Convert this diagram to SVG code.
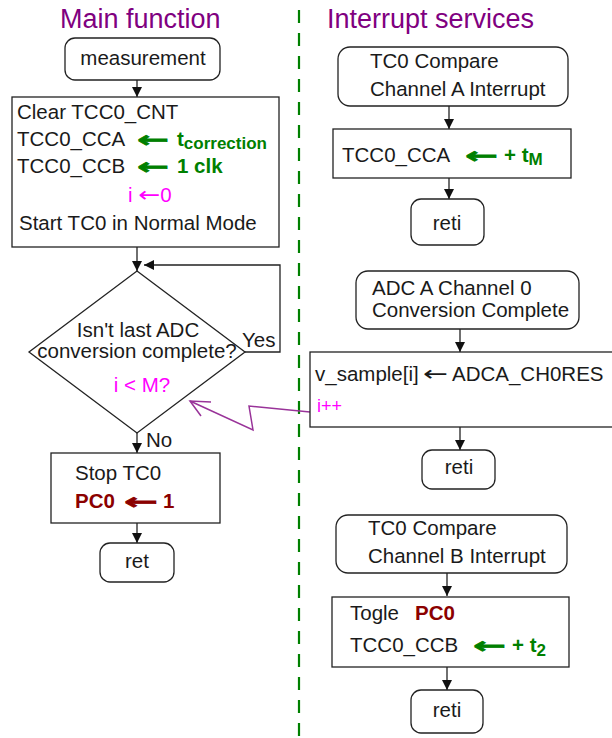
<svg xmlns="http://www.w3.org/2000/svg" width="612" height="738" viewBox="0 0 612 738">
<defs>
<style>
text{font-family:"Liberation Sans","DejaVu Sans",Arial,sans-serif;font-size:20.5px;fill:#1a1a1a}
.title{font-size:27px;fill:#800080}
.box{fill:#fff;stroke:#222;stroke-width:1.3}
.c{text-anchor:middle}
.g{fill:#008000;font-weight:bold}
.r{fill:#8b0000;font-weight:bold}
.m{fill:#ff00ff}
.sub{font-size:17px}
.arr{font-family:"DejaVu Sans",sans-serif;font-size:22px;stroke-width:0.7}
.arrt{font-family:"DejaVu Sans",sans-serif;font-size:21px}
.g.arr{stroke:#008000}
.r.arr{stroke:#8b0000}
.conn{fill:none;stroke:#222;stroke-width:1.3}
</style>
<marker id="ah" viewBox="0 0 10 10" refX="10" refY="5" markerWidth="10" markerHeight="10" markerUnits="userSpaceOnUse" orient="auto">
<path d="M0,0 L10,5 L0,10 z" fill="#111"/>
</marker>
</defs>
<rect width="612" height="738" fill="#fff"/>

<g id="titles">
<text class="title" x="60" y="28">Main function</text>
<text class="title" x="327" y="28">Interrupt services</text>
</g>

<line id="separator" x1="299" y1="10" x2="299" y2="738" stroke="#008000" stroke-width="2.2" stroke-dasharray="13 10"/>

<g id="connectors">
<line class="conn" x1="137" y1="80" x2="137" y2="97" marker-end="url(#ah)"/>
<line class="conn" x1="137" y1="247" x2="137" y2="271" marker-end="url(#ah)"/>
<polyline class="conn" points="245,352 280,352 280,265 144,265" marker-end="url(#ah)"/>
<line class="conn" x1="137" y1="433" x2="137" y2="453" marker-end="url(#ah)"/>
<line class="conn" x1="137" y1="523" x2="137" y2="543" marker-end="url(#ah)"/>
<line class="conn" x1="449" y1="106" x2="449" y2="129" marker-end="url(#ah)"/>
<line class="conn" x1="449" y1="178" x2="449" y2="199" marker-end="url(#ah)"/>
<line class="conn" x1="460" y1="329" x2="460" y2="352" marker-end="url(#ah)"/>
<line class="conn" x1="460" y1="427" x2="460" y2="450" marker-end="url(#ah)"/>
<line class="conn" x1="447" y1="573" x2="447" y2="596" marker-end="url(#ah)"/>
<line class="conn" x1="447" y1="667" x2="447" y2="690" marker-end="url(#ah)"/>
<g id="signal" fill="none" stroke="#993399" stroke-width="1.5">
<polyline points="310,412 249,406 253,430 190,401"/>
<polyline points="211,402 190,401 201,416"/>
</g>
<text x="242" y="347">Yes</text>
<text x="146" y="447">No</text>
</g>

<g id="measurement">
<rect class="box" x="65" y="38" width="155" height="42" rx="10"/>
<text class="c" x="143" y="65">measurement</text>
</g>

<g id="init">
<rect class="box" x="12" y="97" width="267" height="150"/>
<text x="17" y="119">Clear TCC0_CNT</text>
<text x="17" y="146">TCC0_CCA</text>
<text class="g arr" x="137" y="147" textLength="32" lengthAdjust="spacingAndGlyphs">←</text>
<text class="g" x="177" y="146">t<tspan class="sub" dy="3">correction</tspan></text>
<text x="17" y="173">TCC0_CCB</text>
<text class="g arr" x="137" y="174" textLength="32" lengthAdjust="spacingAndGlyphs">←</text>
<text class="g" x="177" y="173">1 clk</text>
<text class="m" x="128" y="202">i <tspan class="arrt" textLength="22" lengthAdjust="spacingAndGlyphs">←</tspan>0</text>
<text x="19" y="230">Start TC0 in Normal Mode</text>
</g>

<g id="decision">
<polygon class="box" points="137,271 245,352 137,433 29,352"/>
<text class="c" x="138" y="337">Isn't last ADC</text>
<text class="c" x="137" y="358">conversion complete?</text>
<text class="c m" x="142" y="392">i &lt; M?</text>
</g>

<g id="stop">
<rect class="box" x="51" y="453" width="169" height="70"/>
<text x="75" y="480">Stop TC0</text>
<text class="r" x="75" y="508">PC0</text>
<text class="r arr" x="124" y="509" textLength="34" lengthAdjust="spacingAndGlyphs">←</text>
<text class="r" x="163" y="508">1</text>
</g>

<g id="ret">
<rect class="box" x="100" y="543" width="74" height="39" rx="10"/>
<text class="c" x="137" y="568">ret</text>
</g>

<g id="isrA">
<rect class="box" x="338" y="47" width="230" height="59" rx="12"/>
<text x="370" y="68">TC0 Compare</text>
<text x="370" y="96">Channel A Interrupt</text>
</g>

<g id="isrA-body">
<rect class="box" x="333" y="129" width="238" height="49"/>
<text x="342" y="162">TCC0_CCA</text>
<text class="g arr" x="465" y="163" textLength="33" lengthAdjust="spacingAndGlyphs">←</text>
<text class="g" x="504" y="162">+ t<tspan class="sub" dy="3">M</tspan></text>
</g>

<g id="retiA">
<rect class="box" x="411" y="199" width="73" height="46" rx="10"/>
<text class="c" x="447" y="230">reti</text>
</g>

<g id="isrADC">
<rect class="box" x="356" y="271" width="223" height="58" rx="12"/>
<text x="372" y="295">ADC A Channel 0</text>
<text x="372" y="317">Conversion Complete</text>
</g>

<g id="isrADC-body">
<rect class="box" x="310" y="352" width="310" height="75"/>
<text x="315" y="381">v_sample[i]</text>
<text class="arrt" x="423" y="381" textLength="25" lengthAdjust="spacingAndGlyphs">←</text>
<text x="452" y="381">ADCA_CH0RES</text>
<text class="m" x="317" y="412" style="font-size:18px">i++</text>
</g>

<g id="retiADC">
<rect class="box" x="422" y="450" width="73" height="39" rx="10"/>
<text class="c" x="459" y="474">reti</text>
</g>

<g id="isrB">
<rect class="box" x="336" y="515" width="231" height="58" rx="12"/>
<text x="368" y="535">TC0 Compare</text>
<text x="368" y="563">Channel B Interrupt</text>
</g>

<g id="isrB-body">
<rect class="box" x="332" y="597" width="237" height="70"/>
<text x="350" y="620">Togle</text>
<text class="r" x="415" y="620">PC0</text>
<text x="350" y="652">TCC0_CCB</text>
<text class="g arr" x="473" y="653" textLength="33" lengthAdjust="spacingAndGlyphs">←</text>
<text class="g" x="512" y="652">+ t<tspan class="sub" dy="4">2</tspan></text>
</g>

<g id="retiB">
<rect class="box" x="411" y="690" width="72" height="43" rx="10"/>
<text class="c" x="447" y="717">reti</text>
</g>
</svg>
